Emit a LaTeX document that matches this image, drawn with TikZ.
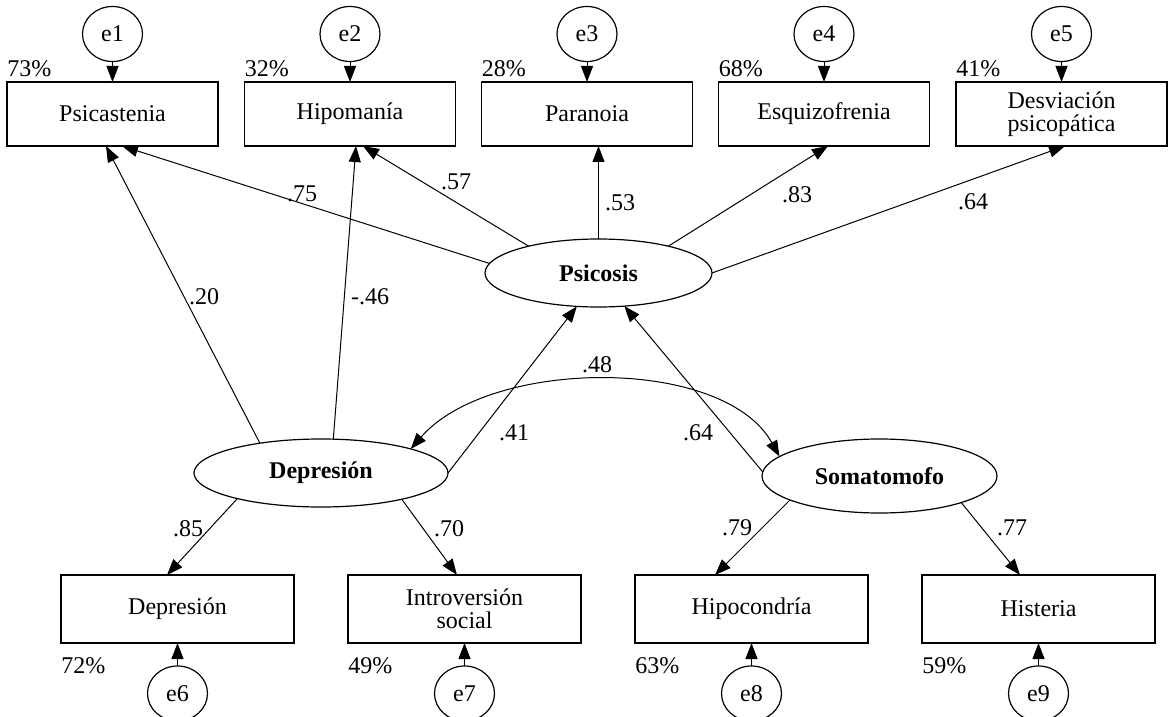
\documentclass[tikz,border=0pt]{standalone}
\usepackage{fontspec}
\setmainfont{Liberation Serif}
\usetikzlibrary{
    arrows.meta,
    positioning,
    shapes.geometric,
    calc,
}

\begin{document}
\begin{tikzpicture}[
        x=0.5pt, y=-0.5pt,
        every node/.style={font=\fontsize{12}{11.5}\selectfont},
        obsbox/.style={
            draw, line width=0.6pt, rectangle, inner sep=0pt, outer sep=0pt,
            align=center, minimum width=105.5pt, minimum height=32pt,
        },
        obswide/.style={obsbox, minimum width=116.5pt, minimum height=34pt},
        latent/.style={
            draw, line width=0.6pt, ellipse, inner sep=0pt, outer sep=0pt,
            font=\fontsize{12}{11.5}\selectfont\bfseries,
            minimum width=113.5pt, minimum height=34pt,
        },
        errnode/.style={
            draw, line width=0.6pt, ellipse, inner sep=0pt, outer sep=0pt,
            minimum width=30pt, minimum height=27.5pt,
        },
        pct/.style={inner sep=0pt},
        lbl/.style={inner sep=0pt},
        path/.style={line width=0.5pt, -{Triangle[length=8pt,width=6pt]}},
        covpath/.style={line width=0.5pt,
            {Triangle[length=8pt,width=6pt]}-{Triangle[length=8pt,width=6pt]}},
    ]
        \useasboundingbox (0,0) rectangle (1168,717);

        \node[obsbox] (psicastenia) at (112.5,114) {Psicastenia};
        \node[obsbox] (hipomania) at (350,114) {Hipomanía};
        \node[obsbox] (paranoia) at (587,114) {Paranoia};
        \node[obsbox] (esquizofrenia) at (824,114) {Esquizofrenia};
        \node[obsbox] (desviacion) at (1061.5,114) {Desviación\\psicopática};

        \node[errnode] (e1) at (112.5,34) {e1};
        \node[errnode] (e2) at (350,34) {e2};
        \node[errnode] (e3) at (587,34) {e3};
        \node[errnode] (e4) at (824,34) {e4};
        \node[errnode] (e5) at (1061.5,34) {e5};

        \node[pct, anchor=south west] (r1) at ([yshift=2.5pt]psicastenia.north west) {73\%};
        \node[pct, anchor=south west] (r2) at ([yshift=2.5pt]hipomania.north west) {32\%};
        \node[pct, anchor=south west] (r3) at ([yshift=2.5pt]paranoia.north west) {28\%};
        \node[pct, anchor=south west] (r4) at ([yshift=2.5pt]esquizofrenia.north west) {68\%};
        \node[pct, anchor=south west] (r5) at ([yshift=2.5pt]desviacion.north west) {41\%};

        \node[latent] (psicosis) at (598.5,273) {Psicosis};
        \node[latent, minimum width=127pt] (depresion) at (321,473) {Depresión};
        \node[latent, minimum width=117.5pt, minimum height=37pt] (somatomofo) at (879.5,476) {Somatomofo};

        \node[obswide] (depbox) at (177.5,609) {Depresión};
        \node[obswide] (introversion) at (464.5,609) {Introversión\\social};
        \node[obswide] (hipocondria) at (751.5,609) {Hipocondría};
        \node[obswide] (histeria) at (1038.5,609) {Histeria};

        \node[errnode] (e6) at (177.5,693.5) {e6};
        \node[errnode] (e7) at (464.5,693.5) {e7};
        \node[errnode] (e8) at (751.5,693.5) {e8};
        \node[errnode] (e9) at (1038.5,693.5) {e9};

        \node[pct, anchor=north west] (r6) at ([yshift=-7pt]depbox.south west) {72\%};
        \node[pct, anchor=north west] (r7) at ([yshift=-7pt]introversion.south west) {49\%};
        \node[pct, anchor=north west] (r8) at ([yshift=-7pt]hipocondria.south west) {63\%};
        \node[pct, anchor=north west] (r9) at ([yshift=-7pt]histeria.south west) {59\%};

        \foreach \err/\obs in {e1/psicastenia, e2/hipomania, e3/paranoia, e4/esquizofrenia,
            e5/desviacion, e6/depbox, e7/introversion, e8/hipocondria, e9/histeria}
            \draw[path] (\err) -- (\obs);

        \draw[path] (psicosis.175.5) -- ([xshift=4.75pt]psicastenia.south);
        \draw[path] (psicosis.159.5) -- ([xshift=6.5pt]hipomania.south);
        \draw[path] (psicosis.north) -- (psicosis.north |- paranoia.south);
        \draw[path] (psicosis.21.8) -- ([xshift=2pt]esquizofrenia.south);
        \draw[path] (psicosis.east) -- ([xshift=1.75pt]desviacion.south);
        \draw[path] (depresion.154) -- ([xshift=-3.25pt]psicastenia.south);
        \draw[path] (depresion.70.6) -- ([xshift=3pt]hipomania.south);
        \draw[path] (depresion.east) -- (psicosis.237.6);
        \draw[path] (somatomofo.178.5) -- (psicosis.308.6);
        \draw[path] (depresion.197.6) -- ([xshift=-5.25pt]depbox.north);
        \draw[path] (depresion.342) -- ([xshift=-3.75pt]introversion.north);
        \draw[path] (somatomofo.195.9) -- ([xshift=-18.25pt]hipocondria.north);
        \draw[path] (somatomofo.342.5) -- ([xshift=-9.25pt]histeria.north);
        \draw[covpath] (depresion.15.2) .. controls +(79,-91) and +(-56,-101) .. (somatomofo.169.7);

        \node[lbl] (l75) at (302,194) {.75};
        \node[lbl] (l57) at (456,182) {.57};
        \node[lbl] (l53) at (620,203) {.53};
        \node[lbl] (l83) at (797,195) {.83};
        \node[lbl] (l64a) at (973,202) {.64};
        \node[lbl] (l20) at (204,297) {.20};
        \node[lbl] (l46) at (370,297) {-.46};
        \node[lbl] (l41) at (514,433) {.41};
        \node[lbl] (l64b) at (698,433) {.64};
        \node[lbl] (l48) at (597,365) {.48};
        \node[lbl] (l85) at (188,529) {.85};
        \node[lbl] (l70) at (449,529) {.70};
        \node[lbl] (l79) at (737,528) {.79};
        \node[lbl] (l77) at (1012,528) {.77};
    \end{tikzpicture}
\end{document}
